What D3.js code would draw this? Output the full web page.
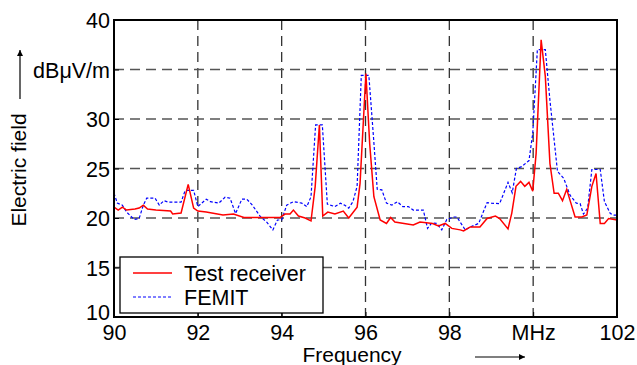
<!DOCTYPE html>
<html><head><meta charset="utf-8">
<script src="https://cdn.jsdelivr.net/npm/d3@7"></script>
<style>body{margin:0;background:#fff}svg{display:block}text{font-family:"Liberation Sans",Arial,sans-serif;fill:#000}</style>
</head><body><svg id="c" width="637" height="365"></svg>
<script>
const xTicks = [90, 92, 94, 96, 98, 100, 102];
const xTickLabels = ["90", "92", "94", "96", "98", "MHz", "102"];
const yTicks = [10, 15, 20, 25, 30, 35, 40];
const yTickLabels = ["10", "15", "20", "25", "30", "dBμV/m", "40"];

const rxFreq = [90,90.1,90.2,90.3,90.5,90.6,90.7,90.8,91.0,91.35,91.4,91.6,91.77,91.9,92.0,92.2,92.6,92.85,93.1,93.5,93.96,94.08,94.2,94.28,94.4,94.56,94.7,94.8,94.9,94.98,95.1,95.27,95.47,95.6,95.8,95.87,96.01,96.1,96.2,96.35,96.5,96.6,96.7,97.14,97.3,97.6,97.74,97.9,98.06,98.26,98.34,98.5,98.73,98.9,99.1,99.2,99.4,99.49,99.59,99.7,99.8,99.9,99.99,100.07,100.19,100.29,100.4,100.5,100.6,100.7,100.8,100.9,101.0,101.16,101.28,101.4,101.5,101.6,101.7,101.8,102];
const rxVal = [21.1,20.8,21.1,20.8,20.9,21.0,21.3,20.9,20.8,20.7,20.4,20.5,23.4,21.0,20.7,20.6,20.3,20.4,20.05,20.05,20.05,20.4,20.4,20.8,20.2,20.0,19.7,23.2,29.4,20.2,20.6,20.4,20.7,20.0,21.1,23.5,34.6,27.5,22.15,19.8,19.45,20.05,19.6,19.3,19.6,19.45,19.2,19.45,18.95,18.8,18.7,19.1,19.1,19.95,20.2,19.95,18.9,20.5,23.2,23.7,23.2,23.6,22.7,26.5,38.0,34.3,25.5,22.5,22.5,21.75,22.9,21.5,20.1,20.1,20.3,23.2,24.5,19.45,19.45,19.95,19.8];

const feFreq = [90,90.08,90.2,90.3,90.48,90.6,90.7,90.78,90.98,91.08,91.19,91.3,91.6,91.7,91.9,92.0,92.2,92.3,92.5,92.65,92.77,92.9,93.05,93.17,93.3,93.5,93.64,93.79,93.9,94.0,94.12,94.28,94.48,94.6,94.7,94.81,94.97,95.09,95.27,95.4,95.5,95.6,95.7,95.8,95.9,96.08,96.19,96.28,96.39,96.5,96.63,96.76,96.89,97.02,97.14,97.38,97.48,97.58,97.7,97.82,97.94,98.1,98.18,98.38,98.5,98.7,98.9,99.0,99.2,99.4,99.5,99.6,99.73,99.9,99.99,100.1,100.29,100.4,100.58,100.73,100.88,101.03,101.12,101.2,101.3,101.4,101.6,101.7,101.84,101.93,102];
const feVal = [22.5,21.5,21.3,20.6,19.85,19.95,21.3,22.0,22.0,21.3,21.75,21.6,21.6,22.8,22.8,21.15,21.9,21.65,21.5,22.1,22.0,20.45,21.9,21.9,21.3,20.1,19.6,18.8,19.8,19.8,21.3,21.65,21.5,21.15,22.15,29.4,29.4,21.4,21.15,21.5,21.3,21.0,21.65,23.2,34.4,34.4,28.2,22.9,22.85,21.5,21.3,21.65,21.15,21.15,20.8,20.8,18.95,19.5,19.45,18.8,19.85,20.1,20.1,18.8,19.1,19.45,21.55,21.5,21.45,23.6,22.55,25.0,25.2,25.8,28.55,37.0,37.0,31.9,24.7,24.0,22.3,21.5,21.45,20.4,21.0,24.9,24.9,21.65,20.45,20.3,20.3];

const legendLabels = ["Test receiver", "FEMIT"];

const svg = d3.select("#c");
const L = 114, R = 617, T = 20, B = 317;
const FS = 21.5;
const x = d3.scaleLinear().domain([90, 102]).range([L, R]);
const y = d3.scaleLinear().domain([10, 40]).range([B, T]);

// grid
const g = svg.append("g");
g.selectAll("line.vx").data(xTicks.slice(1, -1)).join("line")
  .attr("x1", d => x(d)).attr("x2", d => x(d)).attr("y1", T).attr("y2", B)
  .attr("stroke", "#333").attr("stroke-width", 1.3).attr("stroke-dasharray", "10,6");
g.selectAll("line.hy").data(yTicks.slice(1, -1)).join("line")
  .attr("x1", L).attr("x2", R).attr("y1", d => y(d)).attr("y2", d => y(d))
  .attr("stroke", "#555").attr("stroke-width", 1.3).attr("stroke-dasharray", "10,6");

svg.append("clipPath").attr("id", "clip").append("rect")
  .attr("x", L).attr("y", T).attr("width", R - L).attr("height", B - T);

const line = d3.line().x(d => x(d[0])).y(d => y(d[1]));
const plot = svg.append("g").attr("clip-path", "url(#clip)");
plot.append("path").datum(feFreq.map((f, i) => [f, feVal[i]]))
  .attr("d", line).attr("fill", "none").attr("stroke", "#0000ff")
  .attr("stroke-width", 1.2).attr("stroke-dasharray", "3,2");
plot.append("path").datum(rxFreq.map((f, i) => [f, rxVal[i]]))
  .attr("d", line).attr("fill", "none").attr("stroke", "#ff0000")
  .attr("stroke-width", 1.5);

// axes ticks (inward)
const xa = svg.append("g").attr("transform", `translate(0,${B})`)
  .call(d3.axisBottom(x).tickValues(xTicks).tickSize(-5).tickFormat((d, i) => xTickLabels[i]));
const ya = svg.append("g").attr("transform", `translate(${L},0)`)
  .call(d3.axisLeft(y).tickValues(yTicks).tickSize(-5).tickFormat((d, i) => yTickLabels[i]));
[xa, ya].forEach(a => { a.select(".domain").remove(); a.selectAll(".tick line").attr("stroke", "#000").attr("stroke-width", 1); });
xa.selectAll(".tick text").attr("font-size", FS).attr("font-family", "Liberation Sans, Arial").attr("dy", null).attr("y", 23);
ya.selectAll(".tick text").attr("font-size", FS).attr("font-family", "Liberation Sans, Arial").attr("x", -4).attr("dy", "0.35em");
ya.selectAll(".tick").filter(d => d === 10).select("text").attr("dy", "0.1em");

// frame
svg.append("rect").attr("x", L).attr("y", T).attr("width", R - L).attr("height", B - T)
  .attr("fill", "none").attr("stroke", "#000").attr("stroke-width", 2);

// axis titles
svg.append("text").attr("transform", "translate(26,170) rotate(-90)")
  .attr("text-anchor", "middle").attr("font-size", 21).text("Electric field");
svg.append("defs").append("marker").attr("id", "ah").attr("viewBox", "0 0 10 10")
  .attr("refX", 10).attr("refY", 5).attr("markerWidth", 10).attr("markerHeight", 6)
  .attr("markerUnits", "userSpaceOnUse").attr("orient", "auto")
  .append("path").attr("d", "M0,0L10,5L0,10Z").attr("fill", "#000");
svg.append("line").attr("x1", 20).attr("x2", 20).attr("y1", 99).attr("y2", 50)
  .attr("stroke", "#000").attr("stroke-width", 1.2).attr("marker-end", "url(#ah)");
svg.append("text").attr("x", 352).attr("y", 362).attr("text-anchor", "middle")
  .attr("font-size", 21).text("Frequency");
svg.append("line").attr("x1", 475).attr("x2", 525).attr("y1", 357).attr("y2", 357)
  .attr("stroke", "#000").attr("stroke-width", 1.2).attr("marker-end", "url(#ah)");

// legend
const lg = svg.append("g");
lg.append("rect").attr("x", 120).attr("y", 257).attr("width", 203).attr("height", 56)
  .attr("fill", "#fff").attr("stroke", "#000").attr("stroke-width", 1.3);
const styles = [{c: "#ff0000", w: 1.5, da: null}, {c: "#0000ff", w: 1.2, da: "3,2"}];
legendLabels.forEach((lab, i) => {
  const yy = 273 + i * 24;
  lg.append("line").attr("x1", 133).attr("x2", 172).attr("y1", yy).attr("y2", yy)
    .attr("stroke", styles[i].c).attr("stroke-width", styles[i].w).attr("stroke-dasharray", styles[i].da);
  lg.append("text").attr("x", 184).attr("y", yy).attr("dy", "0.36em").attr("font-size", FS).text(lab);
});
</script></body></html>
